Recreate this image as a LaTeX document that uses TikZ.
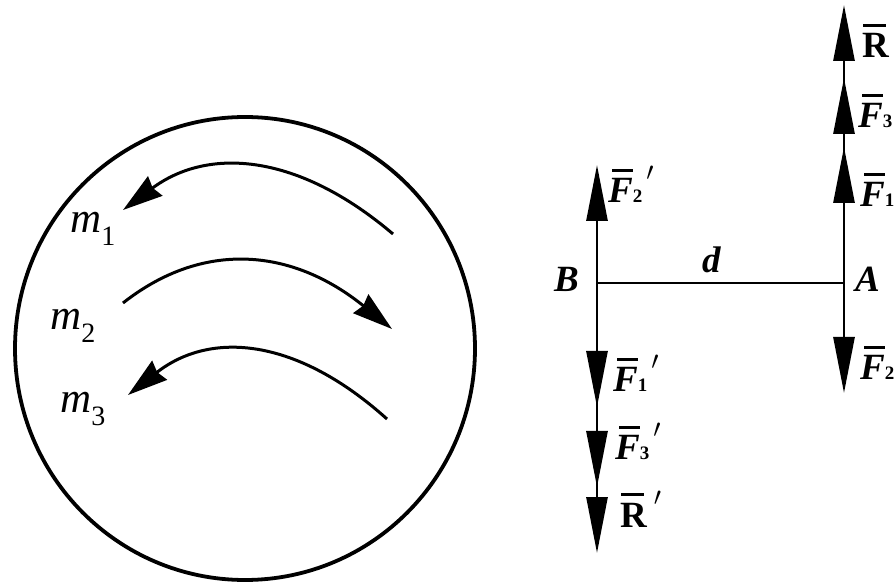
\RequirePackage{fix-cm}
\documentclass[tikz,border=0pt]{standalone}
\usepackage{fontspec}
\setmainfont{Liberation Serif}
\usetikzlibrary{arrows.meta}
\newcommand\ovbar[2]{\setbox0=\hbox{#2}\rlap{\kern#1\raisebox{\dimexpr\ht0+7pt\relax}{\rule{\dimexpr\wd0-4pt\relax}{3pt}}}\box0}
\newcommand\subdig[1]{{\upshape\fontsize{19}{19}\selectfont #1}}
\newcommand\primemark{\kern4pt\raisebox{22pt}{\fontsize{26}{26}\selectfont$\prime$}}
\newcommand\msub[1]{{\itshape m}\raisebox{-13pt}{\upshape\fontsize{28}{28}\selectfont #1}}
\tikzset{
  lab/.style={inner sep=0pt, anchor=base west, font=\fontsize{37}{40}\selectfont\bfseries\itshape},
  mlab/.style={inner sep=0pt, anchor=base west, font=\fontsize{43}{48}\selectfont},
  rim/.style={line width=3.8pt},
  arc/.style={line width=3pt, -{Stealth[length=40pt,width=24pt,inset=3pt]}},
  vline/.style={line width=2.8pt},
  force/.style={line width=2.8pt, -{Triangle[length=56pt,width=21pt]}},
  bar/.style={line width=2.4pt}
}
\begin{document}
\begin{tikzpicture}[x=1pt,y=-1pt]
\useasboundingbox (0,0) rectangle (895,585);
% circle
\draw[rim] (245,348.5) ellipse [x radius=230, y radius=231.5];
% arcs
\coordinate (a1s) at (393,234); \coordinate (a1e) at (123,210);
\coordinate (a2s) at (123,303); \coordinate (a2e) at (392,329);
\coordinate (a3s) at (387,419); \coordinate (a3e) at (128,395);
\draw[arc] (a1s) .. controls (299,154) and (209,146) .. (a1e);
\draw[arc] (a2s) .. controls (203,240) and (292,248) .. (a2e);
\draw[arc] (a3s) .. controls (297,338) and (211,330) .. (a3e);
% mass labels
\node[mlab] (m1) at (70,233) {\msub{1}};
\node[mlab] (m2) at (50,330) {\msub{2}};
\node[mlab] (m3) at (60,413) {\msub{3}};
% force system
\coordinate (B) at (597,283);
\coordinate (A) at (844,283);
\coordinate (Btop) at (597,165);
\coordinate (B1) at (597,407);
\coordinate (B3) at (597,487);
\coordinate (BR) at (597,553);
\coordinate (A1) at (844,147);
\coordinate (A3) at (844,78);
\coordinate (AR) at (844,5);
\coordinate (A2) at (844,393);
\draw[bar] (B) -- (A);
\draw[vline, shorten <=15pt, shorten >=15pt] (Btop) -- (BR);
\draw[vline, shorten <=15pt, shorten >=15pt] (AR) -- (A2);
\draw[force] (B) -- (Btop);
\draw[force] (B) -- (B1);
\draw[force] (B1) -- (B3);
\draw[force] (B3) -- (BR);
\draw[force] (A) -- (A1);
\draw[force] (A1) -- (A3);
\draw[force] (A3) -- (AR);
\draw[force] (A) -- (A2);
% point labels
\node[lab] (lB) at (554,292) {B};
\node[lab] (ld) at (702,273) {d};
\node[lab] (lA) at (855,292) {A};
% force labels at A
\node[lab] (lR) at (862,58) {\ovbar{1pt}{\upshape R}};
\node[lab] (lF3) at (858,128) {\ovbar{4pt}{F}\subdig{3}};
\node[lab] (lF1) at (860,207) {\ovbar{4pt}{F}\subdig{1}};
\node[lab] (lF2) at (860,380) {\ovbar{4pt}{F}\subdig{2}};
% force labels at B
\node[lab] (lF2p) at (608,203) {\ovbar{4pt}{F}\subdig{2}\primemark};
\node[lab] (lF1p) at (613,392) {\ovbar{4pt}{F}\subdig{1}\primemark};
\node[lab] (lF3p) at (615,460) {\ovbar{4pt}{F}\subdig{3}\primemark};
\node[lab] (lRp) at (620,527) {\ovbar{1pt}{\upshape R}\kern3pt\primemark};
\end{tikzpicture}
\end{document}
